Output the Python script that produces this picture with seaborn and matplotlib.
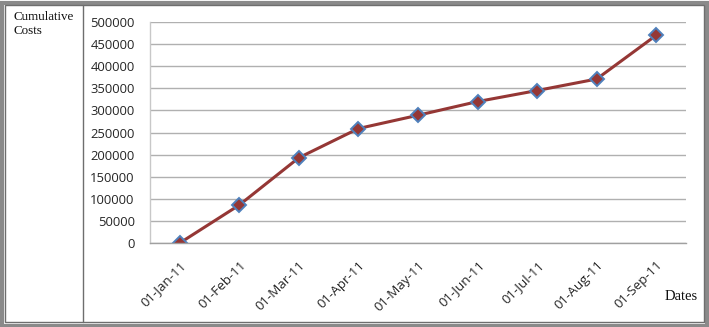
import matplotlib
matplotlib.use("Agg")
import matplotlib.pyplot as plt
import seaborn as sns
import pandas as pd
import numpy as np
from matplotlib.patches import Rectangle
from matplotlib.lines import Line2D

dates = ["01-Jan-11", "01-Feb-11", "01-Mar-11", "01-Apr-11", "01-May-11",
         "01-Jun-11", "01-Jul-11", "01-Aug-11", "01-Sep-11"]
costs = [0, 86000, 193000, 259000, 289000, 320000, 345000, 371000, 470000]
yticks = [0, 50000, 100000, 150000, 200000, 250000, 300000, 350000, 400000, 450000, 500000]

df = pd.DataFrame({"Dates": dates, "Costs": costs})

sns.set_style("white")
fig = plt.figure(figsize=(7.09, 3.27), dpi=100)
ax = fig.add_axes([150/709, 1-243/327, (686-150)/709, (243-22)/327])

sns.lineplot(data=df, x="Dates", y="Costs", ax=ax, color="#953735", lw=2.2,
             marker="D", markersize=7.5, markerfacecolor="#953735",
             markeredgecolor="#4F81BD", markeredgewidth=1.4, sort=False)

ax.set_xlim(-0.5, len(dates) - 0.5)
ax.set_ylim(0, 500000)
ax.set_yticks(yticks)
ax.set_yticklabels([str(v) for v in yticks], fontsize=9.4, family="Open Sans", color="#262626")
ax.set_xticks(range(len(dates)))
ax.set_xticklabels(dates, rotation=45, ha="right", rotation_mode="anchor",
                   fontsize=9.6, family="Open Sans", color="#262626")
ax.tick_params(axis="x", which="major", length=0, pad=11)
ax.set_xticks(np.arange(-0.5, len(dates), 1.0), minor=True)
ax.tick_params(axis="x", which="minor", length=5, color="#a0a0a0", width=1, direction="out")
ax.tick_params(axis="y", which="major", length=5, color="#a0a0a0", width=1, direction="out", pad=6)
ax.grid(axis="y", color="#b0b0b0", lw=1)
ax.grid(axis="x", visible=False)
for s in ["top", "right"]:
    ax.spines[s].set_visible(False)
ax.spines["left"].set_color("#c8c8c8")
ax.spines["bottom"].set_color("#a0a0a0")
ax.spines["left"].set_linewidth(1)
ax.spines["bottom"].set_linewidth(1)
ax.set_xlabel("")
ax.set_ylabel("")

fig.text(13/709, 1-11/327, "Cumulative\nCosts", family="Liberation Serif", fontsize=9.4,
         va="top", ha="left", linespacing=1.25, color="#111111")
fig.text(665/709, 1-296/327, "Dates", family="Liberation Serif", fontsize=10.5,
         va="center", ha="left", color="#111111")

# Frame decorations
fig.patches.append(Rectangle((1.5/709, 1.5/327), 1-4/709, 1-4/327, transform=fig.transFigure,
                             fill=False, ec="#8a8a8a", lw=3))
fig.patches.append(Rectangle((5/709, 5/327), 1-10/709, 1-10/327, transform=fig.transFigure,
                             fill=False, ec="#6e6e6e", lw=1))
fig.lines.append(Line2D([82.5/709, 82.5/709], [5/327, 1-5/327], transform=fig.transFigure,
                        color="#6e6e6e", lw=1))

fig.savefig("out.png", dpi=100)
